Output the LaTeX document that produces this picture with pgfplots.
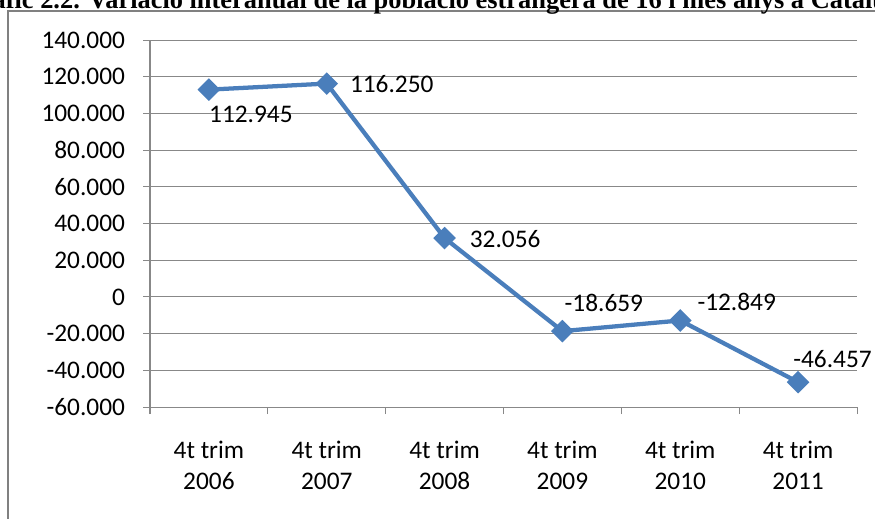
\documentclass[border=0pt]{standalone}
\usepackage{pgfplots}
\pgfplotsset{compat=1.18}
\usepackage{fontspec}
\setmainfont{Carlito}
\newfontfamily\titlefont{Liberation Serif}
\definecolor{lineblue}{HTML}{4A7EBB}
\definecolor{gridgray}{HTML}{888888}
\definecolor{framegray}{HTML}{808080}

\begin{document}
\begin{tikzpicture}[x=0.75pt,y=0.75pt]
\path (0,0) rectangle (875,518);
\draw[overlay, framegray, line width=1.6pt] (8,-30) -- (8,507) -- (920,507);
\node[overlay, anchor=base west, inner sep=0, font=\titlefont\bfseries\fontsize{19.8}{22}\selectfont] at (40,509) {\llap{Gràfic }2.2. Variació interanual de la població estrangera de 16 i més anys a Catalunya};
\begin{axis}[
  at={(112.5pt,83.25pt)}, anchor=south west,
  scale only axis, width=530.25pt, height=275.25pt,
  xmin=-0.5, xmax=5.5, ymin=-60000, ymax=140000,
  scaled y ticks=false,
  axis lines=left, axis line style={draw=gridgray, line width=0.75pt, -},
  ytick={-60000,-40000,-20000,0,20000,40000,60000,80000,100000,120000,140000},
  yticklabels={-60.000,-40.000,-20.000,0,20.000,40.000,60.000,80.000,100.000,120.000,140.000},
  ymajorgrids, grid style={gridgray, line width=0.75pt},
  ytick style={draw=gridgray, line width=0.75pt},
  tick align=outside, major tick length=5.25pt,
  yticklabel style={font=\fontsize{19}{22}\selectfont, xshift=-10pt},
  xtick={0,1,2,3,4,5},
  xticklabels={{4t trim\\2006},{4t trim\\2007},{4t trim\\2008},{4t trim\\2009},{4t trim\\2010},{4t trim\\2011}},
  xticklabel style={font=\fontsize{19}{23.5}\selectfont, align=center, yshift=-16.5pt},
  x tick style={draw=none},
  extra x ticks={-0.5,0.5,1.5,2.5,3.5,4.5,5.5},
  extra x tick labels={},
  extra x tick style={grid=none, x tick style={draw=gridgray, line width=0.75pt}, tick align=outside, major tick length=5.25pt},
  clip=false,
]
\addplot[lineblue, line width=3.2pt, mark=square*, mark size=4.4pt, mark options={rotate=45, solid, fill=lineblue}]
  coordinates {(0,112945) (1,116250) (2,32056) (3,-18659) (4,-12849) (5,-46457)};
\begin{scope}[every node/.style={anchor=base west, inner sep=0, font=\fontsize{19}{22}\selectfont}]
\node[xshift=0pt, yshift=-25pt] at (axis cs:0,112945) {112.945};
\node[xshift=17.25pt, yshift=-6.75pt] at (axis cs:1,116250) {116.250};
\node[xshift=18.75pt, yshift=-6.75pt] at (axis cs:2,32056) {32.056};
\node[xshift=1.5pt, yshift=15pt] at (axis cs:3,-18659) {-18.659};
\node[xshift=12.75pt, yshift=7.5pt] at (axis cs:4,-12849) {-12.849};
\node[overlay, xshift=-3.75pt, yshift=11.25pt] at (axis cs:5,-46457) {-46.457};
\end{scope}
\end{axis}
\end{tikzpicture}
\end{document}
